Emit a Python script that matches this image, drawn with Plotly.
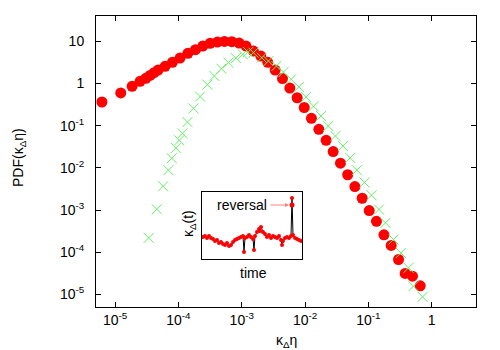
import plotly.graph_objects as go

# Main PDF data (red circles)
red_x = [6.2e-6, 1.23e-5, 1.86e-5, 2.48e-5, 3.06e-5, 3.57e-5, 4.13e-5, 4.78e-5, 6.17e-5, 8.04e-5,
         1.06e-4, 1.41e-4, 1.86e-4, 2.43e-4, 3.16e-4, 4.13e-4, 5.33e-4, 6.98e-4, 9.1e-4, 1.17e-3,
         1.53e-3, 2.0e-3, 2.58e-3, 3.37e-3, 4.4e-3, 5.75e-3, 7.5e-3, 9.7e-3, 1.26e-2, 1.65e-2,
         2.15e-2, 2.78e-2, 3.62e-2, 4.71e-2, 6.12e-2, 7.98e-2, 0.103, 0.134, 0.176, 0.229,
         0.299, 0.381, 0.497, 0.658]
red_y = [0.365, 0.60, 0.86, 1.13, 1.33, 1.56, 1.81, 2.09, 2.56, 3.18,
         4.02, 5.20, 6.36, 7.74, 8.98, 9.62, 10.0, 9.84, 9.12, 7.74,
         5.89, 4.48, 3.18, 2.09, 1.31, 0.78, 0.46, 0.27, 0.15, 0.082,
         0.045, 0.0243, 0.0129, 6.86e-3, 3.6e-3, 1.9e-3, 9.7e-4, 5.4e-4, 2.57e-4, 1.44e-4,
         6.7e-5, 3.13e-5, 2.7e-5, 1.59e-5]

# Green crosses
green_x = [3.4e-5, 4.56e-5, 5.73e-5, 6.95e-5, 7.87e-5, 9.1e-5, 1.03e-4, 1.16e-4, 1.39e-4, 1.73e-4,
           2.2e-4, 2.87e-4, 3.7e-4, 4.78e-4, 6.17e-4, 8.07e-4, 1.04e-3, 1.26e-3, 1.53e-3, 2.07e-3,
           2.64e-3, 3.53e-3, 4.56e-3, 6.03e-3, 7.98e-3, 1.04e-2, 1.36e-2, 1.78e-2, 2.32e-2, 3.02e-2,
           3.95e-2, 5.16e-2, 6.58e-2, 8.67e-2, 0.112, 0.147, 0.186, 0.249, 0.326, 0.43,
           0.515, 0.716]
green_y = [2.18e-4, 1.04e-3, 3.66e-3, 8.8e-3, 0.0169, 0.0296, 0.045, 0.066, 0.122, 0.258,
           0.49, 0.94, 1.51, 2.25, 3.13, 4.02, 4.92, 5.58, 5.4, 4.11,
           3.42, 2.6, 1.87, 1.26, 0.83, 0.48, 0.29, 0.17, 0.098, 0.057,
           0.033, 0.0172, 8.8e-3, 4.5e-3, 2.24e-3, 1.03e-3, 4.95e-4, 2.0e-4, 9.6e-5, 4.25e-5,
           1.56e-5, 8.7e-6]

x_tickvals = [1e-5, 1e-4, 1e-3, 1e-2, 1e-1, 1]
x_ticktext = ["10<sup>-5</sup>", "10<sup>-4</sup>", "10<sup>-3</sup>", "10<sup>-2</sup>", "10<sup>-1</sup>", "1"]
y_tickvals = [10, 1, 1e-1, 1e-2, 1e-3, 1e-4, 1e-5]
y_ticktext = ["10", "1", "10<sup>-1</sup>", "10<sup>-2</sup>", "10<sup>-3</sup>", "10<sup>-4</sup>", "10<sup>-5</sup>"]

# Inset time series (arbitrary units)
inset_t = [1, 3, 5, 7, 9, 11, 13, 15, 17, 19, 21, 23, 25, 27, 29, 31, 33, 35, 37, 39, 41, 42, 43,
           45, 47, 49, 51, 52, 53, 55, 57, 58, 59, 61, 63, 65, 67, 69, 71, 73, 75, 77, 79, 80, 81,
           83, 85, 87, 89, 90, 91, 93, 95, 97, 99]
inset_k = [22, 23, 21, 23, 21, 20, 18, 19, 16, 17, 15, 14, 16, 13, 14, 17, 19, 20, 21, 22, 23, 7, 21,
           22, 24, 22, 20, 9, 23, 27, 30, 28, 32, 27, 25, 22, 24, 21, 23, 22, 21, 23, 19, 14, 18,
           21, 22, 21, 23, 61, 24, 21, 20, 19, 18]
rev_t = [90]
rev_k = [54]

font = "Liberation Sans, Arial, sans-serif"
FS = 14
L, R, T, B = 96, 24, 16, 43
PW, PH = 500 - L - R, 350 - T - B


def px(x, y):
    return (x - L) / PW, (350 - B - y) / PH


fig = go.Figure()
fig.add_trace(go.Scatter(x=red_x, y=red_y, mode="markers",
                         marker=dict(color="#ff0000", size=11, line=dict(width=0)),
                         showlegend=False))
fig.add_trace(go.Scatter(x=green_x, y=green_y, mode="markers",
                         marker=dict(symbol="x-thin-open", color="#66ee66", size=10,
                                     line=dict(color="#66ee66", width=1)),
                         showlegend=False))
# inset
fig.add_trace(go.Scatter(x=inset_t, y=inset_k, mode="lines+markers", xaxis="x2", yaxis="y2",
                         line=dict(color="black", width=1),
                         marker=dict(color="#ff0000", size=4),
                         showlegend=False))
fig.add_trace(go.Scatter(x=rev_t, y=rev_k, mode="markers", xaxis="x2", yaxis="y2",
                         marker=dict(color="#ff0000", size=5),
                         showlegend=False))

ix0, iy0 = px(202, 259)
ix1, iy1 = px(302, 192)
tx, ty = px(253, 273)
kx, ky = px(189, 224)
xtx, xty = px(286, 341)
ytx, yty = px(19, 158)

C = dict(xref="paper", yref="paper", showarrow=False, xanchor="center", yanchor="middle",
         font=dict(size=FS))

fig.update_layout(
    width=500, height=350,
    margin=dict(l=L, r=R, t=T, b=B, autoexpand=False),
    paper_bgcolor="white", plot_bgcolor="white",
    font=dict(family=font, size=FS, color="black"),
    xaxis=dict(type="log", range=[-5.301, 0.699], tickvals=x_tickvals, ticktext=x_ticktext,
               ticks="inside", ticklen=5, tickcolor="black", showline=True, linecolor="black",
               linewidth=1, mirror="allticks", showgrid=False, zeroline=False,
               automargin=False),
    yaxis=dict(type="log", range=[-5.301, 1.602], tickvals=y_tickvals, ticktext=y_ticktext,
               ticks="inside", ticklen=5, tickcolor="black", showline=True, linecolor="black",
               linewidth=1, mirror="allticks", showgrid=False, zeroline=False,
               ticklabelstandoff=8, automargin=False),
    xaxis2=dict(domain=[ix0, ix1], anchor="y2", range=[0, 100], showticklabels=False,
                ticks="", showline=True, linecolor="black", linewidth=1, mirror=True,
                showgrid=False, zeroline=False, automargin=False),
    yaxis2=dict(domain=[iy0, iy1], anchor="x2", range=[0, 67], showticklabels=False,
                ticks="", showline=True, linecolor="black", linewidth=1, mirror=True,
                showgrid=False, zeroline=False, automargin=False),
    annotations=[
        dict(x=90, y=54, xref="x2", yref="y2", ax=67, ay=54, axref="x2", ayref="y2",
             text="", showarrow=True, arrowhead=2, arrowsize=0.8, arrowwidth=1,
             arrowcolor="#ff8080", standoff=3),
        dict(x=67, y=54, xref="x2", yref="y2", text="reversal", showarrow=False,
             xanchor="right", yanchor="middle", font=dict(size=FS)),
        dict(C, x=tx, y=ty, text="time"),
        dict(C, x=kx, y=ky, text="κ<sub>Δ</sub>(t)", textangle=-90),
        dict(C, x=xtx, y=xty, text="κ<sub>Δ</sub>η"),
        dict(C, x=ytx, y=yty, text="PDF(κ<sub>Δ</sub>η)", textangle=-90),
    ],
)

fig.write_html("out.html", config={"displayModeBar": False},
               post_script="document.body.style.margin='0';document.body.style.overflow='hidden';")
